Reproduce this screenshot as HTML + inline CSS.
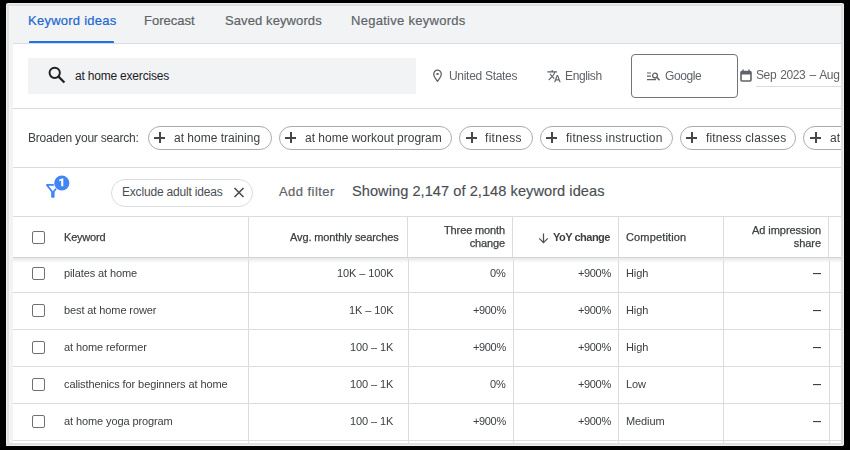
<!DOCTYPE html>
<html><head><meta charset="utf-8">
<style>
*{box-sizing:border-box;margin:0;padding:0}
html,body{width:850px;height:450px;background:#000;overflow:hidden;font-family:"Liberation Sans",sans-serif}
.abs{position:absolute}
.t{position:absolute;white-space:nowrap;line-height:1}
#outer{position:absolute;left:6px;top:3px;width:838px;height:443px;background:#eeeeee;border-radius:2px}
#gray{position:absolute;left:7px;top:4px;width:836px;height:441px;background:#e0e0e0}
#content{position:absolute;left:9px;top:6px;width:832px;height:437px;background:#f1f3f4;overflow:hidden}
#card{position:absolute;left:13px;top:44px;width:828px;height:399px;background:#fff;overflow:hidden}
.hl{position:absolute;height:1px;background:#dadce0}
.vl{position:absolute;width:1px;background:#dadce0}
.chip{position:absolute;height:24px;border:1px solid #a8acb1;border-radius:12px;background:#fff}
.plus{position:absolute;width:12px;height:12px}
.plus:before,.plus:after{content:"";position:absolute;background:#44474b}
.plus:before{left:5.05px;top:0.4px;width:1.6px;height:10.9px}
.plus:after{left:0.3px;top:5.05px;width:10.9px;height:1.6px}
.cb{position:absolute;width:13px;height:13px;border:1.5px solid #707070;border-radius:2px}
.hd{-webkit-text-stroke:0.25px #3c4043}
.cell{will-change:transform;position:absolute;font-size:11px;color:#3c4043;white-space:nowrap;line-height:1;letter-spacing:-0.1px}
.ga{will-change:transform}
</style></head><body>
<div id="outer"></div>
<div id="gray"></div>
<div id="content"></div>
<div id="card"></div>

<div id="clip" style="position:absolute;left:0;top:0;width:850px;height:450px;clip-path:inset(6px 9px 7px 9px)">
<!-- tabs -->
<div class="t" style="left:28px;top:14px;font-size:13px;color:#1967d2;letter-spacing:0.25px;-webkit-text-stroke:0.2px #1967d2">Keyword ideas</div>
<div class="t" style="left:144px;top:14px;font-size:13px;-webkit-text-stroke:0.2px #5f6368;color:#5f6368">Forecast</div>
<div class="t" style="left:225px;top:14px;font-size:13px;-webkit-text-stroke:0.2px #5f6368;color:#5f6368;letter-spacing:0.1px">Saved keywords</div>
<div class="t" style="left:351px;top:14px;font-size:13px;-webkit-text-stroke:0.2px #5f6368;color:#5f6368;letter-spacing:0.28px">Negative keywords</div>
<div class="abs" style="left:29px;top:41px;width:85px;height:2px;background:#1a73e8;border-radius:1px 1px 0 0"></div>
<div class="hl" style="left:13px;top:43px;width:828px"></div>

<!-- search row -->
<div class="abs" style="left:28px;top:58px;width:388px;height:36px;background:#f1f3f4"></div>
<svg class="abs" style="left:47px;top:66px" width="19" height="19" viewBox="0 0 19 19"><circle cx="7.7" cy="6.8" r="5.15" fill="none" stroke="#202124" stroke-width="1.95"/><path d="M11.3 10.4L17.4 16.5" stroke="#202124" stroke-width="2.2"/></svg>
<div class="t" style="left:75px;top:70px;font-size:12px;color:#202124;letter-spacing:-0.2px">at home exercises</div>

<svg class="abs" style="left:428px;top:66px" width="20" height="20" viewBox="0 0 20 20"><g transform="translate(1.95,2.34) scale(0.63)"><path fill="#5f6368" d="M12 2C8.13 2 5 5.13 5 9c0 5.25 7 13 7 13s7-7.75 7-13c0-3.87-3.13-7-7-7zM7 9c0-2.76 2.24-5 5-5s5 2.24 5 5c0 2.88-2.88 7.19-5 9.88C9.920 16.21 7 11.85 7 9z"/><ellipse cx="12" cy="9" rx="2.3" ry="1.6" fill="#5f6368"/></g></svg>
<div class="t ga" style="left:449px;top:70px;font-size:12px;color:#5f6368;letter-spacing:-0.3px">United States</div>

<svg class="abs" style="left:544px;top:66px" width="20" height="20" viewBox="0 0 20 20"><g transform="translate(2.7,2.8) scale(0.61)"><path fill="#5f6368" d="M12.87 15.07l-2.54-2.51.03-.03c1.74-1.94 2.98-4.17 3.71-6.53H17V4h-7V2H8v2H1v1.99h11.17C11.5 7.92 10.440 9.75 9 11.35 8.07 10.32 7.3 9.19 6.69 8h-2c.73 1.63 1.73 3.17 2.98 4.56l-5.09 5.02L4 19l5-5 3.11 3.11.76-2.04zM18.5 10h-2L12 22h2l1.12-3h4.75L21 22h2l-4.5-12zm-2.620 7l1.62-4.33L19.12 17h-3.24z"/></g></svg>
<div class="t ga" style="left:565px;top:70px;font-size:12px;color:#5f6368;letter-spacing:-0.37px">English</div>

<div class="abs" style="left:631px;top:54px;width:107px;height:44px;border:1px solid #70757a;border-radius:4px"></div>
<svg class="abs" style="left:647px;top:72px" width="14" height="9" viewBox="0 0 14 9"><path d="M0 1H4M0 4.2H4M0 7.6H9" stroke="#5f6368" stroke-width="1.2"/><circle cx="8" cy="3.6" r="2.4" fill="none" stroke="#5f6368" stroke-width="1.3"/><path d="M9.8 5.4L12.6 8.2" stroke="#5f6368" stroke-width="1.5"/></svg>
<div class="t ga" style="left:665px;top:70px;font-size:12px;color:#5f6368;letter-spacing:-0.4px">Google</div>

<svg class="abs" style="left:740px;top:69px" width="12" height="13" viewBox="0 0 12 13"><rect x="1" y="2.5" width="10" height="9.5" rx="1" fill="none" stroke="#5f6368" stroke-width="1.6"/><rect x="1" y="2.5" width="10" height="3" fill="#5f6368"/><path d="M3 0.5V2.5M9 0.5V2.5" stroke="#5f6368" stroke-width="1.4"/></svg>
<div class="t ga" style="left:756px;top:69px;font-size:12px;color:#5f6368;letter-spacing:-0.4px;word-spacing:1.2px">Sep 2023 – Aug</div>
<div class="hl" style="left:756px;top:86px;width:85px;background:#dadce0"></div>

<div class="hl" style="left:13px;top:108px;width:828px"></div>

<!-- broaden row -->
<div class="t ga" style="left:28px;top:132px;font-size:12px;color:#3c4043;letter-spacing:-0.2px">Broaden your search:</div>
<div class="chip" style="left:148px;top:126px;width:124px"></div>
<div class="plus" style="left:154px;top:132px"></div>
<div class="t ga" style="left:174px;top:132px;font-size:12px;color:#3c4043">at home training</div>
<div class="chip" style="left:279px;top:126px;width:173px"></div>
<div class="plus" style="left:285px;top:132px"></div>
<div class="t ga" style="left:305px;top:132px;font-size:12px;color:#3c4043">at home workout program</div>
<div class="chip" style="left:459px;top:126px;width:74px"></div>
<div class="plus" style="left:466px;top:132px"></div>
<div class="t ga" style="left:485px;top:132px;font-size:12px;color:#3c4043;letter-spacing:0.3px">fitness</div>
<div class="chip" style="left:540px;top:126px;width:133px"></div>
<div class="plus" style="left:546px;top:132px"></div>
<div class="t ga" style="left:566px;top:132px;font-size:12px;color:#3c4043;letter-spacing:0.2px">fitness instruction</div>
<div class="chip" style="left:680px;top:126px;width:116px"></div>
<div class="plus" style="left:686px;top:132px"></div>
<div class="t ga" style="left:706px;top:132px;font-size:12px;color:#3c4043;letter-spacing:0.15px">fitness classes</div>
<div class="chip" style="left:803px;top:126px;width:80px"></div>
<div class="plus" style="left:810px;top:132px"></div>
<div class="t ga" style="left:830px;top:132px;font-size:12px;color:#3c4043">at home</div>

<div class="hl" style="left:13px;top:167px;width:828px"></div>

<!-- filter row -->
<svg class="abs" style="left:36px;top:168px" width="40" height="36" viewBox="0 0 40 36"><g transform="translate(6.56,12.56) scale(0.86)"><path fill="#4285f4" fill-rule="evenodd" d="M7 6h10l-5.01 6.3L7 6zm-2.75-.39C6.27 8.2 10 13 10 13v6c0 .55.45 1 1 1h2c.55 0 1-.45 1-1v-6s3.72-4.8 5.74-7.39c.51-.66.04-1.61-.79-1.61H5.04c-.83 0-1.3.95-.79 1.61z"/></g><circle cx="25.8" cy="15" r="8.3" fill="#fff"/><circle cx="25.8" cy="15" r="7.6" fill="#4285f4"/><path fill="#fff" d="M25.2 18.2V12.6L23.3 13.4V11.6L26.1 10.4H27.3V18.2Z"/></svg>
<div class="abs" style="left:111px;top:179px;width:142px;height:28px;border:1px solid #dadce0;border-radius:14px"></div>
<div class="t" style="left:122px;top:186px;font-size:12px;color:#4a4e53;letter-spacing:-0.19px">Exclude adult ideas</div>
<svg class="abs" style="left:233px;top:187px" width="12" height="11" viewBox="0 0 12 11"><path d="M1.5 1L10.5 10M10.5 1L1.5 10" stroke="#4a4e53" stroke-width="1.6"/></svg>
<div class="t" style="left:279px;top:185px;font-size:13px;color:#5f6368;letter-spacing:0.45px;-webkit-text-stroke:0.2px #5f6368">Add filter</div>
<div class="t" style="left:352px;top:184px;font-size:14.6px;color:#4a4e53;letter-spacing:0.05px;-webkit-text-stroke:0.15px #4a4e53">Showing 2,147 of 2,148 keyword ideas</div>

<!-- table -->
<div class="hl" style="left:13px;top:216px;width:828px"></div>


<div class="vl" style="left:248px;top:217px;height:226px"></div>
<div class="vl" style="left:407px;top:217px;height:40px"></div>
<div class="vl" style="left:408px;top:258px;height:185px"></div>
<div class="vl" style="left:512px;top:217px;height:40px"></div>
<div class="vl" style="left:513px;top:258px;height:185px"></div>
<div class="vl" style="left:618px;top:217px;height:226px"></div>
<div class="vl" style="left:723px;top:217px;height:226px"></div>
<div class="vl" style="left:828px;top:217px;height:40px"></div>
<div class="vl" style="left:829px;top:258px;height:185px"></div>

<div class="abs" style="left:13px;top:258px;width:828px;height:5px;background:linear-gradient(#e6e7e9,rgba(255,255,255,0))"></div>
<div class="hl" style="left:13px;top:257px;width:828px;background:#d3d5d8"></div>
<div class="cb" style="left:32px;top:231px"></div>
<div class="cell hd" style="left:64px;top:232px;letter-spacing:-0.2px">Keyword</div>
<div class="cell hd" style="left:290px;top:232px;letter-spacing:-0.12px">Avg. monthly searches</div>
<div class="cell hd" style="right:345px;top:224px;letter-spacing:-0.12px;text-align:right;line-height:12.5px">Three month<br>change</div>
<svg class="abs" style="left:538px;top:233px" width="11" height="11" viewBox="0 0 11 11"><path d="M5.5 0.6V9.6M1.2 5.4L5.5 9.7L9.8 5.4" fill="none" stroke="#4d5156" stroke-width="1.25"/></svg>
<div class="cell" style="left:553px;top:232px;font-weight:bold;letter-spacing:-0.5px;color:#3c4043">YoY change</div>
<div class="cell hd" style="left:626px;top:232px;letter-spacing:0.15px">Competition</div>
<div class="cell hd" style="right:29px;top:224px;letter-spacing:-0.05px;text-align:right;line-height:12.5px">Ad impression<br>share</div>

<div class="hl" style="left:13px;top:292px;width:828px"></div>
<div class="hl" style="left:13px;top:329px;width:828px"></div>
<div class="hl" style="left:13px;top:366px;width:828px"></div>
<div class="hl" style="left:13px;top:403px;width:828px"></div>
<div class="hl" style="left:13px;top:440px;width:828px"></div>

<!-- rows -->
<div class="cb" style="left:32px;top:267px"></div>
<div class="cell" style="left:64px;top:268px">pilates at home</div>
<div class="cell" style="right:457px;top:268px">10K – 100K</div>
<div class="cell" style="right:344px;top:268px">0%</div>
<div class="cell" style="right:239px;top:268px;letter-spacing:-0.35px">+900%</div>
<div class="cell" style="left:626px;top:268px">High</div>
<div class="abs" style="left:813px;top:273px;width:8px;height:1px;background:#3c4043;box-shadow:0 0.5px 0 rgba(60,64,67,0.25)"></div>

<div class="cb" style="left:32px;top:304px"></div>
<div class="cell" style="left:64px;top:305px">best at home rower</div>
<div class="cell" style="right:457px;top:305px">1K – 10K</div>
<div class="cell" style="right:344px;top:305px;letter-spacing:-0.35px">+900%</div>
<div class="cell" style="right:239px;top:305px;letter-spacing:-0.35px">+900%</div>
<div class="cell" style="left:626px;top:305px">High</div>
<div class="abs" style="left:813px;top:310px;width:8px;height:1px;background:#3c4043;box-shadow:0 0.5px 0 rgba(60,64,67,0.25)"></div>

<div class="cb" style="left:32px;top:341px"></div>
<div class="cell" style="left:64px;top:342px">at home reformer</div>
<div class="cell" style="right:457px;top:342px">100 – 1K</div>
<div class="cell" style="right:344px;top:342px;letter-spacing:-0.35px">+900%</div>
<div class="cell" style="right:239px;top:342px;letter-spacing:-0.35px">+900%</div>
<div class="cell" style="left:626px;top:342px">High</div>
<div class="abs" style="left:813px;top:347px;width:8px;height:1px;background:#3c4043;box-shadow:0 0.5px 0 rgba(60,64,67,0.25)"></div>

<div class="cb" style="left:32px;top:378px"></div>
<div class="cell" style="left:64px;top:379px">calisthenics for beginners at home</div>
<div class="cell" style="right:457px;top:379px">100 – 1K</div>
<div class="cell" style="right:344px;top:379px">0%</div>
<div class="cell" style="right:239px;top:379px;letter-spacing:-0.35px">+900%</div>
<div class="cell" style="left:626px;top:379px">Low</div>
<div class="abs" style="left:813px;top:384px;width:8px;height:1px;background:#3c4043;box-shadow:0 0.5px 0 rgba(60,64,67,0.25)"></div>

<div class="cb" style="left:32px;top:415px"></div>
<div class="cell" style="left:64px;top:416px">at home yoga program</div>
<div class="cell" style="right:457px;top:416px">100 – 1K</div>
<div class="cell" style="right:344px;top:416px;letter-spacing:-0.35px">+900%</div>
<div class="cell" style="right:239px;top:416px;letter-spacing:-0.35px">+900%</div>
<div class="cell" style="left:626px;top:416px">Medium</div>
<div class="abs" style="left:813px;top:421px;width:8px;height:1px;background:#3c4043;box-shadow:0 0.5px 0 rgba(60,64,67,0.25)"></div>

</div>
<!-- right frame overlay to clip -->
<div class="abs" style="left:841px;top:4px;width:2px;height:441px;background:#e0e0e0"></div>
<div class="abs" style="left:843px;top:4px;width:1px;height:441px;background:#eeeeee"></div>
<div class="abs" style="left:7px;top:443px;width:836px;height:2px;background:#e0e0e0"></div>
<div class="abs" style="left:6px;top:445px;width:837px;height:1px;background:#eeeeee"></div>
</body></html>
